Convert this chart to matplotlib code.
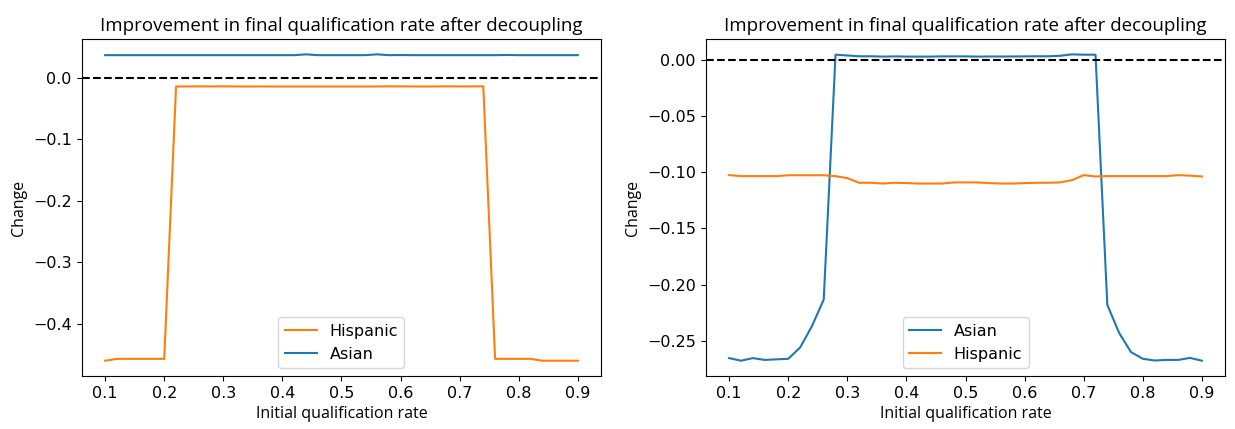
import matplotlib

matplotlib.use("Agg")
import matplotlib.pyplot as plt

# initial qualification rate, 0.10 .. 0.90 in steps of 0.02
rates = [round(0.10 + 0.02 * i, 2) for i in range(41)]

# left panel
left_hispanic = [
    -0.460, -0.457, -0.457, -0.457, -0.457, -0.457,
    -0.0142, -0.0142, -0.0140, -0.0142, -0.0140, -0.0142, -0.0143, -0.0142,
    -0.0143, -0.0143, -0.0143, -0.0143, -0.0143, -0.0143, -0.0143, -0.0143,
    -0.0143, -0.0142, -0.0140, -0.0141, -0.0142, -0.0143, -0.0142, -0.0140,
    -0.0142, -0.0141, -0.0140,
    -0.457, -0.457, -0.457, -0.457, -0.460, -0.460, -0.460, -0.460,
]
left_asian = [
    0.0367, 0.0367, 0.0367, 0.0367, 0.0367, 0.0367, 0.0367, 0.0367,
    0.0367, 0.0367, 0.0367, 0.0367, 0.0367, 0.0367, 0.0367, 0.0367,
    0.0367, 0.0380, 0.0367, 0.0367, 0.0367, 0.0367, 0.0367, 0.0380,
    0.0367, 0.0369, 0.0367, 0.0367, 0.0367, 0.0367, 0.0367, 0.0367,
    0.0367, 0.0367, 0.0370, 0.0367, 0.0367, 0.0367, 0.0367, 0.0367, 0.0367,
]

# right panel
right_asian = [
    -0.2654, -0.2677, -0.2654, -0.2670, -0.2665, -0.2660, -0.2560, -0.2370,
    -0.2133,
    0.0047, 0.0040, 0.0033, 0.0033, 0.0030, 0.0032, 0.0030, 0.0030,
    0.0030, 0.0032, 0.0032, 0.0032, 0.0030, 0.0031, 0.0031, 0.0031,
    0.0032, 0.0033, 0.0033, 0.0037, 0.0050, 0.0047, 0.0047,
    -0.2180, -0.2430, -0.2600, -0.2660, -0.2675, -0.2670, -0.2670,
    -0.2652, -0.2677,
]
right_hispanic = [
    -0.1025, -0.1034, -0.1034, -0.1034, -0.1034, -0.1026, -0.1026, -0.1026,
    -0.1026, -0.1034, -0.1052, -0.1093, -0.1093, -0.1100, -0.1093, -0.1096,
    -0.1100, -0.1100, -0.1100, -0.1090, -0.1090, -0.1090, -0.1096, -0.1100,
    -0.1100, -0.1096, -0.1093, -0.1093, -0.1090, -0.1070, -0.1025, -0.1037,
    -0.1034, -0.1034, -0.1034, -0.1034, -0.1034, -0.1034, -0.1025, -0.1030,
    -0.1037,
]

title = "Improvement in final qualification rate after decoupling"
label_font = ["Open Sans", "DejaVu Sans"]

fig = plt.figure(figsize=(12.35, 4.29), dpi=100)
ax1 = fig.add_axes([0.066, 0.1235, 0.421, 0.7855])
ax2 = fig.add_axes([0.5713, 0.1235, 0.421, 0.7855])

ax1.plot(rates, left_hispanic, color="#ff7f0e", label="Hispanic")
ax1.plot(rates, left_asian, color="#1f77b4", label="Asian")

ax2.plot(rates, right_asian, color="#1f77b4", label="Asian")
ax2.plot(rates, right_hispanic, color="#ff7f0e", label="Hispanic")

for ax in (ax1, ax2):
    ax.axhline(0, color="black", linestyle="--")
    ax.set_xticks([0.1, 0.2, 0.3, 0.4, 0.5, 0.6, 0.7, 0.8, 0.9])
    ax.tick_params(labelsize=11.5)
    ax.set_title(title, fontsize=13.5, family=label_font)
    ax.set_xlabel("Initial qualification rate", fontsize=11.5, family=label_font)
    ax.set_ylabel("Change", fontsize=11.5, family=label_font)
    ax.legend(loc="lower center", fontsize=11.5)

fig.savefig("out.png", dpi=100)
plt.close(fig)
